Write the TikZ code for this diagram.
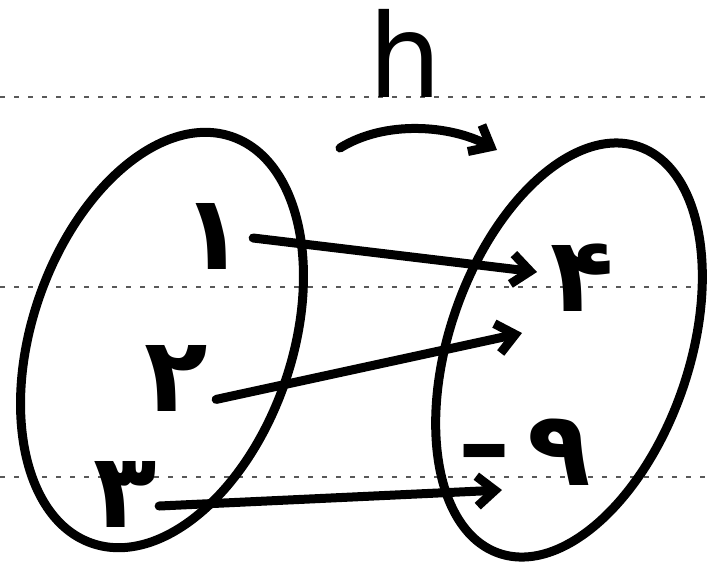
\documentclass[tikz,border=0pt]{standalone}
\usepackage{fontspec}
\newfontfamily\arabicfont[Script=Arabic]{DejaVu Sans}
\newfontfamily\handfont{DejaVu Sans}
\usetikzlibrary{arrows.meta}
\begin{document}
\begin{tikzpicture}[x=0.5pt,y=-0.5pt,
  pen/.style={line width=4.5pt,line cap=round,line join=round,black},
  mapto/.style={pen,-{Straight Barb[length=9pt,width=15pt,line width=4.5pt]}},
  ruling/.style={line width=1.3pt,gray!70!black,dash pattern=on 2.5pt off 4.5pt},
  digit/.style={font=\arabicfont\bfseries\fontsize{52}{52}\selectfont,inner sep=0pt}]
\useasboundingbox (0,0) rectangle (711,586);
% notebook rulings
\draw[ruling] (0,97) -- (711,97);
\draw[ruling] (0,287) -- (711,287);
\draw[ruling] (0,477) -- (711,477);
% sets
\draw[pen,shift={(162,340)},rotate=-19] (0,0) ellipse [x radius=65pt, y radius=107.5pt];
\draw[pen,shift={(569,350)},rotate=-19] (0,0) ellipse [x radius=60pt, y radius=107.5pt];
% elements
\node[digit] (n1) at (213,236) {۱};
\node[digit] (n2) at (176,378) {۲};
\node[digit] (n3) at (125,494) {۳};
\node[digit] (n4) at (582,278) {۴};
\node[digit] (n9) at (525,452) {\raisebox{3pt}{\handfont\bfseries –}\,۹};
% label
\node[font=\handfont\fontsize{58}{58}\selectfont,inner sep=0pt,anchor=base] (h) at (405,97) {h};
\coordinate (hs) at (340,148);
\coordinate (he) at (497,150);
\draw[mapto] (hs) .. controls (385,120) and (450,125) .. (he);
% mappings
\coordinate (e1) at (537,272);
\coordinate (e2) at (522,333);
\coordinate (e3) at (502,490);
\draw[mapto] (n1.east) ++(8,2) coordinate (s1) (s1) -- (e1);
\draw[mapto] (n2.south east) ++(8,-12) coordinate (s2) (s2) -- (e2);
\draw[mapto] (n3.east) ++(2,12) coordinate (s3) (s3) -- (e3);
\end{tikzpicture}
\end{document}
